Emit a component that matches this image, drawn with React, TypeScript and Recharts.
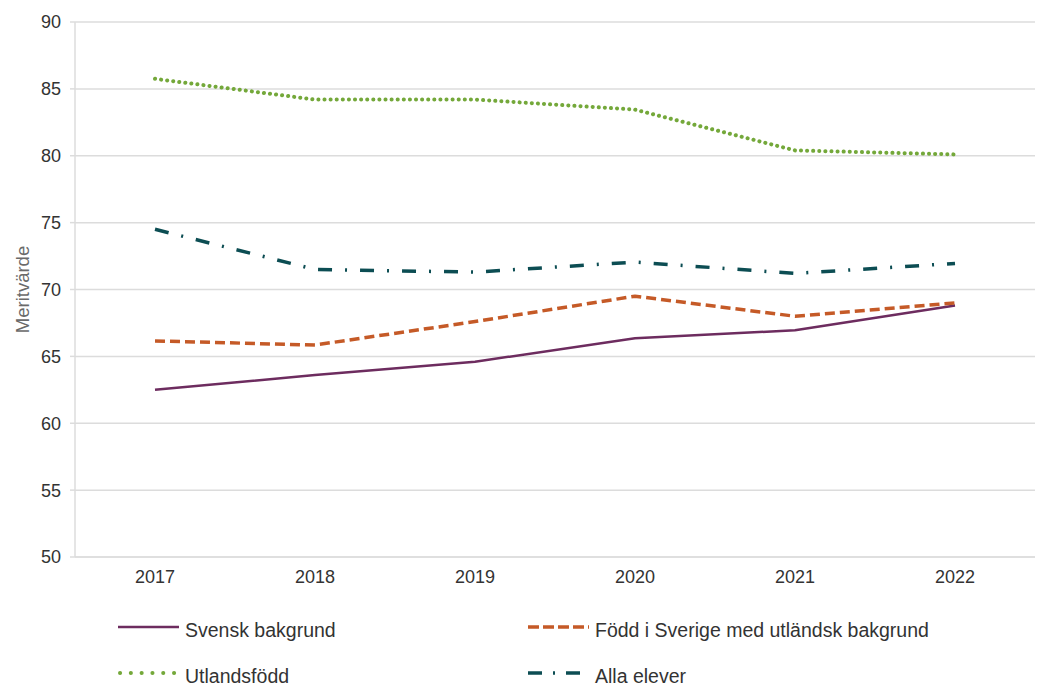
import {
  LineChart,
  Line,
  XAxis,
  YAxis,
  CartesianGrid,
  Legend,
} from 'recharts';

const years = ['2017', '2018', '2019', '2020', '2021', '2022'];
const svenskBakgrund = [62.5, 63.6, 64.6, 66.35, 66.95, 68.8];
const foddISverige = [66.15, 65.85, 67.6, 69.5, 68.0, 69.0];
const utlandsfodd = [85.75, 84.2, 84.2, 83.45, 80.4, 80.1];
const allaElever = [74.5, 71.5, 71.3, 72.05, 71.2, 71.95];
const yTicks = [50, 55, 60, 65, 70, 75, 80, 85, 90];

// one row per year for recharts
const data = years.map((year, i) => ({
  year,
  svensk: svenskBakgrund[i],
  fodd: foddISverige[i],
  utland: utlandsfodd[i],
  alla: allaElever[i],
}));

const series = [
  { key: 'svensk', name: 'Svensk bakgrund', color: '#6d2c5f', width: 2.5, dash: undefined, cap: 'butt', legendDash: undefined },
  { key: 'fodd', name: 'Född i Sverige med utländsk bakgrund', color: '#c55a27', width: 3.5, dash: '10 5', cap: 'butt', legendDash: '11 4' },
  { key: 'utland', name: 'Utlandsfödd', color: '#74a83a', width: 4, dash: '0.1 6', cap: 'round', legendDash: '0.1 10.7' },
  { key: 'alla', name: 'Alla elever', color: '#0c4d53', width: 3.5, dash: '14 13 2 13', cap: 'butt', legendDash: '14 11 2 11' },
] as const;

// legend order in the picture: row 1 = svensk, fodd; row 2 = utland, alla
const LegendGrid = () => (
  <div
    style={{
      display: 'grid',
      gridTemplateColumns: '410px auto',
      gridAutoRows: '46px',
      paddingLeft: 118,
      fontFamily: '"Liberation Sans", Arial, sans-serif',
      fontSize: 19.5,
      color: '#333',
    }}
  >
    {series.map(s => (
      <div key={s.key} style={{ display: 'flex', alignItems: 'center' }}>
        <svg width={61} height={8} style={{ marginTop: -6, flex: 'none' }}>
          <line
            x1={s.cap === 'round' ? 2 : 0}
            y1={4}
            x2={61}
            y2={4}
            stroke={s.color}
            strokeWidth={s.width}
            strokeDasharray={s.legendDash}
            strokeLinecap={s.cap}
          />
        </svg>
        <span style={{ marginLeft: 6, whiteSpace: 'nowrap' }}>{s.name}</span>
      </div>
    ))}
  </div>
);

const gridColor = '#dcdcdc';
const tickStyle = { fontFamily: '"Liberation Sans", Arial, sans-serif', fontSize: 18, fill: '#333' };

export default function App() {
  return (
    <div style={{ position: 'absolute', left: 0, top: 0, width: 1043, height: 686, background: '#fff' }}>
      <LineChart
        width={1043}
        height={686}
        data={data}
        margin={{ top: 22, right: 8, left: 20, bottom: 99 }}
      >
        <CartesianGrid vertical={false} stroke={gridColor} strokeWidth={1.5} />
        <XAxis
          dataKey="year"
          height={30}
          padding={{ left: 80, right: 80 }}
          tickLine={false}
          axisLine={{ stroke: gridColor, strokeWidth: 1.5 }}
          tick={tickStyle}
          tickMargin={7}
          interval={0}
        />
        <YAxis
          width={55}
          domain={[50, 90]}
          ticks={yTicks}
          interval={0}
          tickSize={5}
          tickMargin={9}
          tickLine={{ stroke: gridColor, strokeWidth: 1.5 }}
          axisLine={{ stroke: gridColor, strokeWidth: 1.5 }}
          tick={tickStyle}
          label={{
            value: 'Meritvärde',
            angle: -90,
            position: 'insideLeft',
            offset: 2,
            style: {
              fontFamily: '"Liberation Sans", Arial, sans-serif',
              fontSize: 18.5,
              fill: '#6a6a6a',
              textAnchor: 'middle',
            },
          }}
        />
        {series.map(s => (
          <Line
            key={s.key}
            type="linear"
            dataKey={s.key}
            name={s.name}
            stroke={s.color}
            strokeWidth={s.width}
            strokeDasharray={s.dash}
            strokeLinecap={s.cap}
            strokeLinejoin="round"
            dot={false}
            activeDot={false}
            isAnimationActive={false}
          />
        ))}
        <Legend
          layout="horizontal"
          verticalAlign="middle"
          content={() => <LegendGrid />}
          wrapperStyle={{ left: 0, top: 607, width: 1043 }}
        />
      </LineChart>
    </div>
  );
}
